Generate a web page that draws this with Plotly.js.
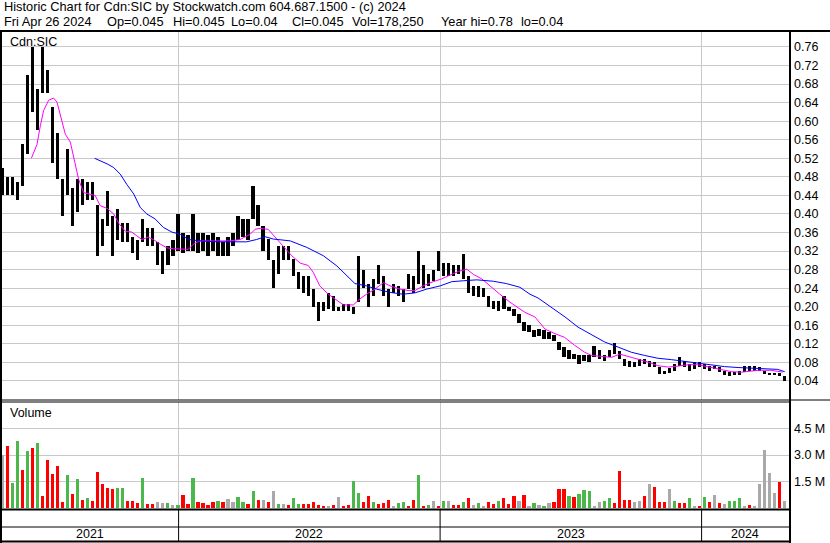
<!DOCTYPE html>
<html><head><meta charset="utf-8">
<script src="https://cdn.plot.ly/plotly-3.0.1.min.js"></script>
<style>html,body{margin:0;padding:0;background:#fff;}#chart{width:830px;height:543px;}</style>
</head><body><div id="chart"></div>
<script>
// ---------- DATA (one sample per week) ----------
const firstWeek = [2021, 3, 30]; // Fri Apr 30 2021 (week 0)
const priceLow = [0.44,0.44,0.44,0.43,0.46,0.53,0.62,0.58,0.66,0.66,
0.51,0.475,0.395,0.44,0.375,0.405,0.42,0.43,0.43,0.31,
0.33,0.375,0.31,0.345,0.34,0.34,0.315,0.30,0.34,0.33,
0.33,0.29,0.27,0.29,0.31,0.32,0.315,0.32,0.32,0.315,
0.32,0.31,0.32,0.31,0.31,0.31,0.33,0.345,0.35,0.345,
0.39,0.375,0.32,0.30,0.24,0.27,0.30,0.30,0.267,0.238,
0.23,0.224,0.20,0.17,0.19,0.195,0.19,0.19,0.19,0.19,
0.185,0.21,0.24,0.20,0.224,0.25,0.224,0.20,0.23,0.224,
0.21,0.238,0.23,0.25,0.24,0.245,0.256,0.277,0.267,0.267,
0.267,0.27,0.26,0.23,0.224,0.22,0.22,0.20,0.195,0.19,
0.195,0.19,0.18,0.166,0.148,0.145,0.134,0.137,0.13,0.13,
0.127,0.106,0.091,0.088,0.088,0.077,0.084,0.082,0.091,0.088,
0.084,0.091,0.098,0.088,0.073,0.07,0.07,0.073,0.077,0.07,
0.07,0.055,0.055,0.057,0.062,0.073,0.07,0.062,0.066,0.07,
0.066,0.062,0.066,0.059,0.052,0.05,0.052,0.052,0.059,0.062,
0.062,0.062,0.055,0.052,0.052,0.05,0.04];
const priceHigh = [0.50,0.48,0.48,0.47,0.55,0.70,0.76,0.67,0.76,0.71,
0.63,0.575,0.475,0.54,0.455,0.475,0.475,0.47,0.47,0.42,
0.39,0.45,0.395,0.41,0.38,0.38,0.35,0.345,0.39,0.37,
0.37,0.34,0.32,0.33,0.345,0.40,0.36,0.355,0.40,0.36,
0.36,0.355,0.36,0.35,0.34,0.35,0.36,0.395,0.39,0.39,
0.46,0.42,0.375,0.346,0.30,0.33,0.33,0.33,0.303,0.274,
0.267,0.267,0.238,0.21,0.21,0.23,0.224,0.20,0.205,0.205,
0.20,0.31,0.28,0.25,0.26,0.29,0.267,0.238,0.25,0.245,
0.238,0.27,0.267,0.32,0.29,0.27,0.28,0.32,0.295,0.295,
0.29,0.29,0.314,0.267,0.245,0.245,0.24,0.224,0.213,0.213,
0.224,0.20,0.195,0.184,0.167,0.16,0.149,0.152,0.149,0.146,
0.14,0.124,0.113,0.106,0.098,0.095,0.095,0.095,0.116,0.106,
0.095,0.106,0.122,0.105,0.088,0.084,0.08,0.087,0.088,0.084,
0.08,0.07,0.062,0.069,0.077,0.091,0.084,0.077,0.08,0.08,
0.077,0.073,0.073,0.07,0.062,0.06,0.059,0.062,0.073,0.073,
0.073,0.07,0.062,0.057,0.057,0.057,0.05];
// weekly peak daily volume, millions of shares
const volumeM = [3.0,3.5,1.45,3.8,2.15,3.2,3.4,3.7,0.7,2.7,
1.96,2.4,0.35,1.87,0.8,1.67,0.5,0.6,0.4,2.06,
1.4,1.15,1.1,1.15,1.15,0.42,0.42,0.33,1.73,0.23,
0.23,0.36,0.33,0.29,0.19,0.19,0.77,0.27,1.73,0.36,
0.33,0.19,0.36,0.42,0.36,0.52,0.36,0.65,0.36,0.23,
1.0,0.48,0.48,0.36,1.0,0.23,0.23,0.19,0.6,0.23,
0.23,0.23,0.38,0.17,0.13,0.13,0.17,0.65,0.13,0.17,
1.52,0.85,0.36,0.71,0.36,0.23,0.33,0.48,0.13,0.33,
0.36,0.13,0.48,1.87,0.13,0.19,0.42,0.13,0.42,0.42,
0.17,0.19,0.36,0.58,0.19,0.31,0.13,0.36,0.23,0.42,
0.58,0.23,0.71,0.42,0.77,0.13,0.29,0.19,0.13,0.29,
0.36,1.1,1.1,0.71,0.65,0.81,1.04,0.96,0.13,0.38,
0.42,0.6,0.33,2.1,0.48,0.46,0.36,0.42,0.71,1.38,
1.23,0.36,0.36,1.1,0.42,0.33,0.33,0.58,0.13,0.13,
0.65,0.36,0.77,0.33,0.27,0.42,0.42,0.58,0.13,0.19,
0.13,1.38,3.3,2.0,0.85,1.48,0.4];
// g = up day, r = down day, n = unchanged
const volumeDir = ('n r g g r g r g r r r r r g r g r g r r r r r g g r r r g r ' +
'r n n g n g r r g r r r r g r n n g g r g r n r n g n r g g ' +
'r r r r r n r n r r g g r r g r r r n g g r r g r g n r g n ' +
'r r g r n g n r r g r r r n r n g n g n r r r g r g g g n n ' +
'g g r r r r n n r n r r r n g r r g n r g r n r n g g g n r ' +
'n n n n n r n').trim().split(/\s+/);
// 30-day (magenta) and 90-day (blue) moving averages, position in weeks from week 0
const maShortWeek = [5.78,6.91,7.57,8.23,9.22,10.22,10.9,11.55,12.55,13.55,14.2,15.2,16.2,17.2,18.5,19.5,20.9,22.2,23.2,24.5,25.8,26.8,27.8,29.1,30.1,31.5,32.8,34.1,35.8,37.1,38.1,39.4,42.1,45.4,47.4,49.4,50.4,51.4,53.0,54.4,56.0,57.7,59.4,61.0,62.0,63.3,65.0,66.7,68.0,70.0,71.3,72.6,74.3,76.0,77.3,79.3,80.9,82.3,83.9,85.9,87.6,89.2,90.9,92.6,93.9,95.6,97.2,99.2,101.2,103.2,104.2,106.2,108.2,110.2,112.1,114.1,116.1,117.5,119.5,121.5,123.1,124.1,126.1,128.7,130.7,132.7,134.7,136.7,138.7,140.7,142.7,145.4,147.4,150.7,153.3,155.6];
const maShortVal = [0.52,0.55,0.59,0.623,0.645,0.65,0.641,0.612,0.572,0.555,0.526,0.475,0.446,0.443,0.44,0.418,0.412,0.40,0.38,0.363,0.361,0.353,0.345,0.35,0.345,0.335,0.327,0.325,0.325,0.324,0.335,0.342,0.342,0.342,0.345,0.356,0.367,0.369,0.367,0.35,0.332,0.31,0.294,0.289,0.274,0.245,0.227,0.213,0.204,0.204,0.217,0.227,0.238,0.252,0.245,0.238,0.235,0.235,0.245,0.254,0.26,0.268,0.276,0.281,0.27,0.26,0.245,0.227,0.21,0.196,0.188,0.178,0.152,0.142,0.134,0.117,0.102,0.095,0.093,0.091,0.098,0.095,0.088,0.081,0.073,0.07,0.072,0.075,0.075,0.07,0.066,0.06,0.059,0.063,0.063,0.059];
const maLongWeek = [18.4,19.5,20.9,22.2,23.5,24.8,26.2,27.5,28.8,30.5,32.1,33.8,35.5,37.1,39.4,42.8,46.1,48.7,50.7,52.4,54.0,57.4,60.7,64.0,66.7,68.7,70.3,72.6,74.6,77.3,79.9,82.3,84.6,87.3,89.6,91.9,94.6,97.9,100.5,103.2,105.2,106.8,109.5,112.2,114.8,117.5,120.1,122.8,125.4,128.1,130.7,133.4,136.1,138.7,141.4,144.0,146.7,149.3,152.0,154.6,156.0];
const maLongVal = [0.52,0.515,0.508,0.50,0.486,0.464,0.443,0.414,0.40,0.389,0.371,0.361,0.356,0.345,0.342,0.34,0.34,0.34,0.345,0.351,0.346,0.342,0.328,0.31,0.288,0.267,0.25,0.245,0.238,0.231,0.227,0.23,0.238,0.245,0.254,0.256,0.258,0.255,0.25,0.242,0.227,0.219,0.199,0.178,0.156,0.14,0.124,0.113,0.102,0.095,0.089,0.086,0.082,0.079,0.075,0.071,0.069,0.068,0.066,0.065,0.06];
const priceTicks = [0.04,0.08,0.12,0.16,0.20,0.24,0.28,0.32,0.36,0.40,0.44,0.48,0.52,0.56,0.60,0.64,0.68,0.72,0.76];
const volTicks = [1.5e6, 3.0e6, 4.5e6];
const volTickText = ['1.5 M', '3.0 M', '4.5 M'];
const years = [2021, 2022, 2023, 2024];
const titleLine1 = 'Historic Chart for Cdn:SIC by Stockwatch.com 604.687.1500 - (c) 2024';
const quoteFields = ['Fri Apr 26 2024', 'Op=0.045', 'Hi=0.045', 'Lo=0.04', 'Cl=0.045', 'Vol=178,250', 'Year hi=0.78', 'lo=0.04'];
const quoteFieldX = [3, 106, 172, 230, 291, 351, 440, 520]; // left edge of each field, px

// ---------- helpers ----------
const DAY = 864e5;
const t0 = Date.UTC(firstWeek[0], firstWeek[1], firstWeek[2]);
const fmt = ms => new Date(ms).toISOString().slice(0, 19).replace('T', ' ');
const weekDate = w => fmt(t0 + w * 7 * DAY);
const xStartMs = Date.UTC(2021, 3, 29, 12), xEndMs = Date.UTC(2024, 4, 2);

const W = 830, H = 543, ML = 2, MR = 41, MT = 32, MB = 33;
const plotW = W - ML - MR, plotH = H - MT - MB;
const px = x => (x - ML) / plotW;
const py = y => 1 - (y - MT) / plotH;

const FONT = 'Liberation Sans, Arial, sans-serif';
const GRID = '#c8c8c8';
const colorOf = {g: '#4cb84c', r: '#ff0000', n: '#a9a9a9'};

const wx = priceLow.map((_, i) => weekDate(i));

const traces = [
  {type: 'bar', x: wx, base: priceLow, y: priceHigh.map((h, i) => h - priceLow[i]),
   width: 4.6 * DAY, marker: {color: '#000000', line: {width: 0}}, xaxis: 'x', yaxis: 'y', hoverinfo: 'skip'},
  {type: 'scatter', mode: 'lines', x: maShortWeek.map(weekDate), y: maShortVal,
   line: {color: '#ff00ff', width: 1}, xaxis: 'x', yaxis: 'y', hoverinfo: 'skip'},
  {type: 'scatter', mode: 'lines', x: maLongWeek.map(weekDate), y: maLongVal,
   line: {color: '#0000ff', width: 1}, xaxis: 'x', yaxis: 'y', hoverinfo: 'skip'},
  {type: 'bar', x: wx, y: volumeM.map(v => v * 1e6), width: 4.5 * DAY,
   marker: {color: volumeDir.map(d => colorOf[d]), line: {width: 0}}, xaxis: 'x2', yaxis: 'y2', hoverinfo: 'skip'}
];

const xCommon = {type: 'date', range: [fmt(xStartMs), fmt(xEndMs)], showticklabels: false,
  showgrid: true, gridcolor: GRID, gridwidth: 1, tick0: '2022-01-01', dtick: 'M12',
  ticks: '', zeroline: false, showline: false, fixedrange: true};

const shapes = [];
const line = (x0, y0, x1, y1, w) => shapes.push({type: 'line', xref: 'paper', yref: 'paper',
  x0: px(x0), y0: py(y0), x1: px(x1), y1: py(y1), line: {color: '#000', width: w}, layer: 'above'});
line(0, 31, 830, 31, 2);       // top frame
line(1, 31, 1, 543, 2);        // left frame
line(790, 31, 790, 543, 2);    // right frame
line(0, 400, 830, 400, 1);     // price panel bottom (double line)
line(0, 402, 790, 402, 1);
line(0, 509.5, 790, 509.5, 2); // volume panel bottom
line(0, 527, 790, 527, 1);     // year band divider
line(0, 541.5, 790, 541.5, 2); // bottom frame

const txt = (text, x, y, size) => ({text: text, xref: 'paper', yref: 'paper', x: px(x), y: py(y),
  xanchor: 'left', yanchor: 'middle', showarrow: false, borderpad: 0,
  font: {family: FONT, size: size, color: '#000'}});
const annotations = [
  txt(titleLine1, 3, 6.5, 12.8),
  txt('Cdn:SIC', 9, 42, 12.5),
  txt('Volume', 9, 413, 12.5)
];
quoteFields.forEach((f, i) => annotations.push(txt(f, quoteFieldX[i], 21.5, 12.8)));

years.forEach(yr => {
  const s = Date.UTC(yr, 0, 1), e = Date.UTC(yr + 1, 0, 1);
  if (s > xStartMs) shapes.push({type: 'line', xref: 'x', yref: 'paper', x0: fmt(s), x1: fmt(s),
    y0: py(510), y1: py(541), line: {color: '#000', width: 1}, layer: 'above'});
  const a = Math.max(s, xStartMs), b = Math.min(e, xEndMs);
  annotations.push({text: String(yr), xref: 'x', yref: 'paper', x: fmt((a + b) / 2), y: py(534),
    xanchor: 'center', yanchor: 'middle', showarrow: false, font: {family: FONT, size: 12.5, color: '#000'}});
});

const layout = {
  width: W, height: H, margin: {l: ML, r: MR, t: MT, b: MB, pad: 0},
  paper_bgcolor: '#fff', plot_bgcolor: '#fff', showlegend: false, barmode: 'overlay', bargap: 0,
  font: {family: FONT, size: 12, color: '#000'},
  xaxis: Object.assign({anchor: 'y'}, xCommon),
  xaxis2: Object.assign({anchor: 'y2', matches: 'x'}, xCommon),
  yaxis: {domain: [py(400), 1], range: [-0.001, 0.7923], side: 'right', tickvals: priceTicks,
    tickformat: '.2f', showgrid: true, gridcolor: GRID, ticks: '', zeroline: false, showline: false,
    tickfont: {family: FONT, size: 12.5, color: '#000'}, fixedrange: true, ticklabelstandoff: 4},
  yaxis2: {domain: [py(509), py(402)], range: [-0.03e6, 5.976e6], side: 'right', tickvals: volTicks,
    ticktext: volTickText, showgrid: true, gridcolor: GRID, ticks: '', zeroline: false, showline: false,
    tickfont: {family: FONT, size: 12.5, color: '#000'}, fixedrange: true, ticklabelstandoff: 4},
  shapes: shapes, annotations: annotations
};

Plotly.newPlot('chart', traces, layout, {staticPlot: true, displayModeBar: false});
</script></body></html>
